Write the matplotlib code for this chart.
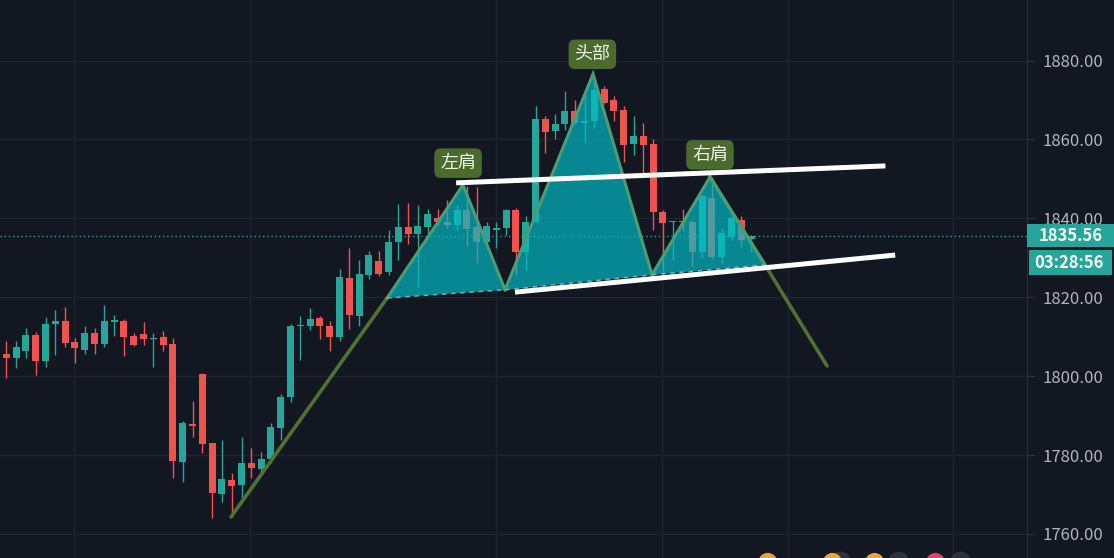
import matplotlib
matplotlib.use('Agg')
import matplotlib.pyplot as plt
import matplotlib.transforms as mtransforms
from matplotlib.patches import Rectangle, Polygon

# ---------------- data ----------------
opens = [1805.6, 1804.6, 1806.4, 1810.4, 1803.9, 1813.1, 1814.0, 1808.7, 1806.6, 1811.0,
         1808.2, 1813.8, 1814.0, 1810.2, 1810.8, 1809.4, 1809.9, 1808.2, 1778.2, 1787.8,
         1800.6, 1783.0, 1770.2, 1773.7, 1772.4, 1778.0, 1776.4, 1778.9, 1786.9, 1794.8,
         1812.6, 1812.6, 1814.8, 1812.8, 1809.8, 1824.9, 1815.3, 1825.7, 1829.3, 1826.5,
         1834.1, 1837.7, 1836.0, 1837.7, 1840.1, 1839.2, 1838.2, 1842.2, 1837.7, 1833.9,
         1837.1, 1837.5, 1842.2, 1831.6, 1839.2, 1865.3, 1862.1, 1863.8, 1867.1, 1864.2,
         1864.6, 1872.8, 1870.1, 1867.4, 1858.9, 1860.8, 1858.9, 1841.6, 1839.0, 1839.4,
         1839.2, 1831.6, 1845.2, 1830.3, 1835.4, 1839.6, 1834.8]
highs = [1808.8, 1809.0, 1812.3, 1811.1, 1815.1, 1816.8, 1817.6, 1809.6, 1812.7, 1812.2,
         1818.1, 1815.5, 1814.4, 1810.9, 1813.8, 1811.0, 1811.5, 1809.6, 1788.7, 1793.6,
         1800.7, 1783.0, 1783.8, 1775.4, 1784.6, 1781.7, 1780.8, 1788.2, 1795.4, 1813.2,
         1815.3, 1817.4, 1815.3, 1814.1, 1827.1, 1832.5, 1829.5, 1831.8, 1831.8, 1837.1,
         1843.6, 1844.0, 1843.5, 1842.4, 1842.4, 1844.7, 1843.5, 1848.1, 1848.0, 1839.2,
         1839.2, 1842.4, 1842.7, 1840.5, 1868.4, 1865.9, 1866.5, 1872.2, 1869.9, 1872.6,
         1876.4, 1873.5, 1870.9, 1868.4, 1866.0, 1864.2, 1860.0, 1842.2, 1839.4, 1842.4,
         1839.5, 1846.0, 1850.6, 1837.5, 1840.5, 1840.5, 1835.8]
lows = [1799.6, 1802.0, 1804.5, 1800.4, 1802.4, 1805.4, 1807.3, 1803.3, 1805.6, 1805.6,
        1807.5, 1810.2, 1805.1, 1807.7, 1807.9, 1802.2, 1806.5, 1774.1, 1773.2, 1784.6,
        1780.4, 1764.1, 1768.1, 1764.2, 1768.1, 1774.1, 1775.2, 1778.0, 1783.8, 1793.5,
        1804.1, 1811.7, 1809.4, 1806.5, 1808.9, 1811.9, 1812.6, 1824.6, 1825.3, 1825.7,
        1829.5, 1833.5, 1822.7, 1835.8, 1838.4, 1837.6, 1837.1, 1832.9, 1828.7, 1833.7,
        1832.5, 1835.8, 1825.7, 1827.0, 1839.0, 1856.6, 1860.0, 1862.5, 1864.0, 1859.1,
        1862.9, 1868.9, 1864.6, 1854.4, 1856.1, 1851.5, 1837.1, 1825.7, 1829.5, 1836.7,
        1827.8, 1829.9, 1829.7, 1828.7, 1834.6, 1832.7, 1831.6]
closes = [1804.6, 1807.3, 1810.4, 1803.9, 1813.2, 1814.0, 1808.5, 1807.2, 1810.9, 1808.2,
          1814.0, 1814.2, 1809.9, 1807.9, 1809.4, 1809.7, 1807.9, 1778.5, 1788.1, 1787.3,
          1782.9, 1770.4, 1773.9, 1772.2, 1778.0, 1776.7, 1779.0, 1787.2, 1794.8, 1812.8,
          1812.8, 1814.5, 1812.8, 1809.8, 1825.2, 1815.5, 1825.9, 1830.8, 1825.9, 1834.1,
          1837.7, 1836.0, 1838.0, 1841.2, 1839.0, 1838.2, 1842.2, 1837.4, 1833.9, 1838.1,
          1837.5, 1842.0, 1831.6, 1839.2, 1865.3, 1861.8, 1863.8, 1867.1, 1864.3, 1864.6,
          1872.6, 1869.3, 1867.1, 1858.7, 1860.8, 1858.7, 1841.5, 1838.8, 1839.4, 1839.0,
          1831.6, 1845.6, 1830.3, 1836.3, 1840.1, 1834.6, 1835.56]

# head & shoulders pattern points (bar index, price)
pattern_x = [22.93, 38.85, 46.60, 50.89, 59.87, 65.89, 71.81, 77.42, 83.74]
pattern_y = [1764.3, 1819.8, 1848.5, 1821.9, 1876.6, 1825.7, 1850.5, 1828.2, 1802.6]

# white trend lines (x0, x1), (y0, y1)
upper_x = [45.9, 89.7]
upper_y = [1849.0, 1853.3]
lower_x = [51.9, 90.7]
lower_y = [1821.3, 1830.7]

labels = ['左肩', '头部', '右肩']
label_x = [46.1, 59.8, 71.8]
label_y = [1854.0, 1881.6, 1856.1]

price_ticks = [1760, 1780, 1800, 1820, 1840, 1860, 1880]
time_grid = [6.9, 24.9, 50.0, 66.9, 79.8, 96.6]
current_price = 1835.56
countdown = '03:28:56'

event_idx = [77.7, 84.3, 88.6, 94.8]
event_colors = ['#e8a33c', '#e8a33c', '#e8a33c', '#e5406a']
event_gray_idx = [85.1, 91.0, 97.3]

# ---------------- style ----------------
plt.rcParams['font.family'] = ['Noto Sans CJK SC', 'DejaVu Sans']
BG = '#131722'
UP = '#26a69a'
DOWN = '#ef5350'
GRID = '#1f2330'
TXT = '#b2b5be'

W, H = 1114, 558
AX_W = 1027
fig = plt.figure(figsize=(W / 100, H / 100), dpi=100, facecolor=BG)
ax = fig.add_axes([0, 0, AX_W / W, 1])
ax.set_facecolor(BG)
ax.set_xlim(-0.643, 104.15)
ax.set_ylim(1753.9, 1895.36)

for s in ax.spines.values():
    s.set_visible(False)
ax.spines['right'].set_visible(True)
ax.spines['right'].set_color('#2a2e39')

ax.set_yticks(price_ticks)
ax.set_yticklabels([f'{v:.2f}' for v in price_ticks])
ax.yaxis.tick_right()
ax.tick_params(axis='y', colors=TXT, labelsize=12, length=6, width=1, pad=5)
ax.tick_params(axis='y', color='#2a2e39')
ax.set_xticks(time_grid)
ax.set_xticklabels([])
ax.tick_params(axis='x', length=0)
ax.grid(color=GRID, linewidth=1, zorder=0)
ax.set_axisbelow(True)

# ---------------- candles ----------------
xs = list(range(len(opens)))
for i in xs:
    o, h, l, c = opens[i], highs[i], lows[i], closes[i]
    col = UP if c >= o else DOWN
    ax.vlines(i, l, h, color=col, linewidth=1, zorder=2)
    bottom = min(o, c)
    height = max(abs(c - o), 0.3)
    ax.bar(i, height, bottom=bottom, width=0.7, color=col, linewidth=0, zorder=2)

# ---------------- pattern ----------------
leg_col = '#4f7233'
ax.plot(pattern_x[0:2], pattern_y[0:2], color=leg_col, linewidth=2.6, zorder=3,
        solid_capstyle='round')
ax.plot(pattern_x[7:9], pattern_y[7:9], color=leg_col, linewidth=2.6, zorder=3,
        solid_capstyle='round')
ax.plot(pattern_x[6:8], pattern_y[6:8], color=leg_col, linewidth=2.6, zorder=3)

fill_rgba = (0.0, 0.74, 0.78, 0.68)
for k in (1, 3, 5):
    tri = list(zip(pattern_x[k:k + 3], pattern_y[k:k + 3]))
    ax.add_patch(Polygon(tri, closed=True, facecolor=fill_rgba, edgecolor='none', zorder=4))
    ax.plot(pattern_x[k:k + 3], pattern_y[k:k + 3], color='#4a9e76', linewidth=2.2,
            zorder=5, solid_joinstyle='miter')
    ax.plot([pattern_x[k], pattern_x[k + 2]], [pattern_y[k], pattern_y[k + 2]],
            color='#5fb8b8', linewidth=1.1, linestyle=(0, (3, 3)), zorder=5)

# white lines
ax.plot(upper_x, upper_y, color='white', linewidth=3.6, zorder=6, solid_capstyle='butt')
ax.plot(lower_x, lower_y, color='white', linewidth=3.6, zorder=6, solid_capstyle='butt')

for t, lx, ly in zip(labels, label_x, label_y):
    ax.text(lx, ly, t, ha='center', va='center', fontsize=13, color='#eef3e6', zorder=7,
            bbox=dict(boxstyle='round,pad=0.32,rounding_size=0.35', fc='#4b6a2e', ec='none'))

# current price line and labels
ax.axhline(current_price, color=UP, linewidth=1, linestyle=(0, (1, 2)), zorder=1.5)
trans = mtransforms.blended_transform_factory(ax.transAxes, ax.transData)
px = (ax.get_ylim()[1] - ax.get_ylim()[0]) / H  # price per pixel
box_w = (W - AX_W) / AX_W
h1 = 23 * px
ax.add_patch(Rectangle((1.0, current_price - h1 / 2), box_w, h1, transform=trans,
                       facecolor=UP, edgecolor='none', clip_on=False, zorder=10))
ax.text(1.0 + 12 / AX_W, current_price, f'{current_price:.2f}', transform=trans,
        ha='left', va='center', color='white', fontsize=12, fontweight='bold',
        clip_on=False, zorder=11)
h2 = 25 * px
top2 = current_price - h1 / 2 - 3 * px
ax.add_patch(Rectangle((1.0 + 2 / AX_W, top2 - h2), box_w - 4 / AX_W, h2, transform=trans,
                       facecolor=UP, edgecolor='none', clip_on=False, zorder=10))
ax.text(1.0 + 7 / AX_W, top2 - h2 / 2, countdown, transform=trans,
        ha='left', va='center', color='white', fontsize=12, fontweight='bold',
        clip_on=False, zorder=11)

# event icons at the bottom (mostly clipped)
tr2 = mtransforms.blended_transform_factory(ax.transData, ax.transAxes)
ax.scatter(event_gray_idx, [-0.008] * len(event_gray_idx), s=240, color='#2e323d',
           transform=tr2, clip_on=False, zorder=8, linewidths=0)
ax.scatter(event_idx, [-0.008] * len(event_idx), s=190, color=event_colors,
           transform=tr2, clip_on=False, zorder=9, linewidths=0)

fig.savefig('out.png', dpi=100, facecolor=BG)
